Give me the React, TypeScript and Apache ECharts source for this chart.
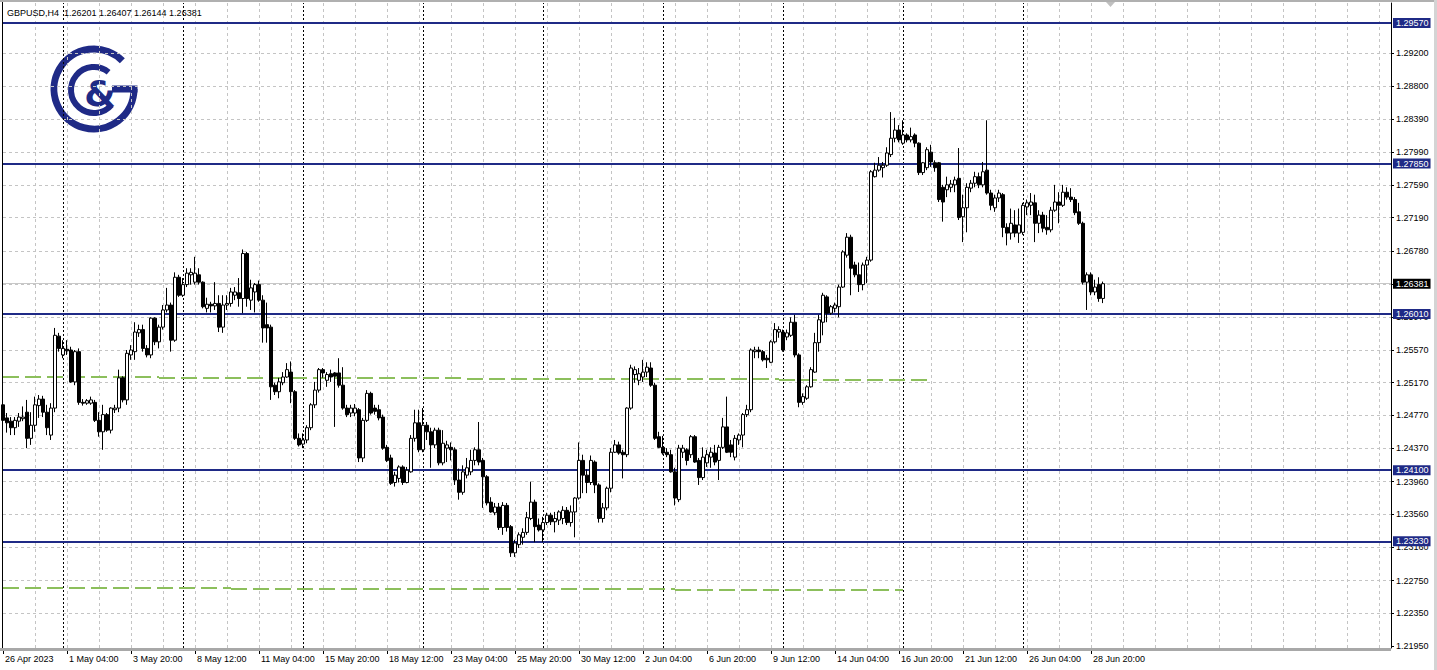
import React, { useEffect, useRef } from "react";
import * as echarts from "echarts";

const symbolTitle = "GBPUSD,H4  1.26201 1.26407 1.26144 1.26381";

// H4 candles, each [open, close, low, high]
const candles: number[][] = [
  [1.2490, 1.2471, 1.2459, 1.2502], [1.2474, 1.2468, 1.2456, 1.2480], [1.2470, 1.2462, 1.2453, 1.2475], [1.2462, 1.2471, 1.2453, 1.2475],
  [1.2470, 1.2475, 1.2463, 1.2480], [1.2473, 1.2475, 1.2470, 1.2488], [1.2481, 1.2449, 1.2437, 1.2496], [1.2449, 1.2465, 1.2441, 1.2481],
  [1.2465, 1.2490, 1.2457, 1.2500], [1.2489, 1.2497, 1.2474, 1.2502], [1.2497, 1.2481, 1.2475, 1.2501], [1.2481, 1.2462, 1.2453, 1.2490],
  [1.2453, 1.2486, 1.2447, 1.2492], [1.2486, 1.2575, 1.2481, 1.2584], [1.2574, 1.2559, 1.2555, 1.2578], [1.2551, 1.2559, 1.2547, 1.2569],
  [1.2558, 1.2556, 1.2551, 1.2569], [1.2557, 1.2518, 1.2517, 1.2561], [1.2518, 1.2555, 1.2514, 1.2557], [1.2555, 1.2493, 1.2490, 1.2559],
  [1.2493, 1.2492, 1.2489, 1.2497], [1.2492, 1.2495, 1.2490, 1.2497], [1.2492, 1.2496, 1.2490, 1.2500], [1.2493, 1.2471, 1.2469, 1.2496],
  [1.2471, 1.2457, 1.2451, 1.2481], [1.2457, 1.2478, 1.2435, 1.2490], [1.2478, 1.2459, 1.2457, 1.2480], [1.2459, 1.2486, 1.2455, 1.2487],
  [1.2484, 1.2486, 1.2480, 1.2490], [1.2486, 1.2523, 1.2481, 1.2533], [1.2523, 1.2496, 1.2493, 1.2525], [1.2496, 1.2553, 1.2490, 1.2557],
  [1.2551, 1.2557, 1.2545, 1.2563], [1.2555, 1.2579, 1.2545, 1.2591], [1.2578, 1.2582, 1.2573, 1.2588], [1.2582, 1.2559, 1.2555, 1.2588],
  [1.2559, 1.2551, 1.2548, 1.2563], [1.2551, 1.2596, 1.2547, 1.2597], [1.2596, 1.2567, 1.2563, 1.2597], [1.2567, 1.2585, 1.2559, 1.2588],
  [1.2585, 1.2606, 1.2582, 1.2612], [1.2606, 1.2612, 1.2603, 1.2633], [1.2612, 1.2569, 1.2555, 1.2615], [1.2569, 1.2646, 1.2567, 1.2652],
  [1.2646, 1.2624, 1.2622, 1.2649], [1.2624, 1.2637, 1.2622, 1.2645], [1.2637, 1.2651, 1.2634, 1.2657], [1.2649, 1.2652, 1.2637, 1.2657],
  [1.2640, 1.2651, 1.2637, 1.2671], [1.2649, 1.2640, 1.2637, 1.2657], [1.2640, 1.2610, 1.2608, 1.2641], [1.2608, 1.2613, 1.2603, 1.2621],
  [1.2613, 1.2611, 1.2603, 1.2616], [1.2611, 1.2614, 1.2606, 1.2640], [1.2614, 1.2585, 1.2579, 1.2624], [1.2585, 1.2612, 1.2578, 1.2624],
  [1.2612, 1.2614, 1.2606, 1.2624], [1.2614, 1.2628, 1.2610, 1.2633], [1.2624, 1.2628, 1.2618, 1.2634], [1.2627, 1.2620, 1.2610, 1.2645],
  [1.2620, 1.2675, 1.2602, 1.2680], [1.2675, 1.2620, 1.2610, 1.2677], [1.2618, 1.2633, 1.2606, 1.2643], [1.2628, 1.2637, 1.2603, 1.2639],
  [1.2637, 1.2618, 1.2616, 1.2642], [1.2618, 1.2584, 1.2566, 1.2624], [1.2588, 1.2584, 1.2566, 1.2615], [1.2585, 1.2512, 1.2496, 1.2588],
  [1.2514, 1.2506, 1.2502, 1.2517], [1.2506, 1.2518, 1.2498, 1.2523], [1.2517, 1.2524, 1.2514, 1.2530], [1.2524, 1.2533, 1.2523, 1.2541],
  [1.2530, 1.2506, 1.2492, 1.2543], [1.2506, 1.2449, 1.2447, 1.2508], [1.2449, 1.2441, 1.2439, 1.2455], [1.2442, 1.2447, 1.2437, 1.2455],
  [1.2447, 1.2462, 1.2443, 1.2465], [1.2462, 1.2490, 1.2459, 1.2492], [1.2490, 1.2508, 1.2486, 1.2518], [1.2508, 1.2533, 1.2505, 1.2535],
  [1.2533, 1.2529, 1.2523, 1.2535], [1.2520, 1.2527, 1.2512, 1.2530], [1.2528, 1.2524, 1.2518, 1.2533], [1.2529, 1.2525, 1.2463, 1.2530],
  [1.2529, 1.2514, 1.2511, 1.2547], [1.2514, 1.2486, 1.2484, 1.2536], [1.2486, 1.2478, 1.2475, 1.2490], [1.2480, 1.2486, 1.2475, 1.2490],
  [1.2480, 1.2486, 1.2476, 1.2491], [1.2484, 1.2425, 1.2420, 1.2486], [1.2425, 1.2471, 1.2420, 1.2474], [1.2471, 1.2504, 1.2469, 1.2508],
  [1.2504, 1.2480, 1.2478, 1.2506], [1.2486, 1.2482, 1.2478, 1.2490], [1.2484, 1.2474, 1.2471, 1.2490], [1.2475, 1.2437, 1.2435, 1.2478],
  [1.2438, 1.2422, 1.2420, 1.2441], [1.2425, 1.2394, 1.2392, 1.2429], [1.2395, 1.2404, 1.2390, 1.2408], [1.2400, 1.2414, 1.2395, 1.2416],
  [1.2414, 1.2395, 1.2392, 1.2416], [1.2395, 1.2410, 1.2394, 1.2414], [1.2408, 1.2449, 1.2407, 1.2453], [1.2449, 1.2468, 1.2445, 1.2484],
  [1.2468, 1.2435, 1.2432, 1.2484], [1.2435, 1.2465, 1.2432, 1.2486], [1.2465, 1.2457, 1.2447, 1.2469], [1.2457, 1.2441, 1.2413, 1.2462],
  [1.2441, 1.2459, 1.2437, 1.2462], [1.2459, 1.2419, 1.2416, 1.2462], [1.2419, 1.2443, 1.2416, 1.2459], [1.2437, 1.2441, 1.2420, 1.2446],
  [1.2438, 1.2435, 1.2422, 1.2444], [1.2435, 1.2398, 1.2392, 1.2438], [1.2398, 1.2383, 1.2374, 1.2412], [1.2383, 1.2408, 1.2380, 1.2416],
  [1.2404, 1.2413, 1.2400, 1.2425], [1.2408, 1.2422, 1.2404, 1.2435], [1.2422, 1.2435, 1.2416, 1.2438], [1.2435, 1.2420, 1.2416, 1.2469],
  [1.2422, 1.2402, 1.2364, 1.2425], [1.2402, 1.2370, 1.2367, 1.2404], [1.2371, 1.2359, 1.2358, 1.2377], [1.2358, 1.2365, 1.2355, 1.2370],
  [1.2365, 1.2340, 1.2337, 1.2370], [1.2340, 1.2367, 1.2331, 1.2371], [1.2367, 1.2340, 1.2335, 1.2370], [1.2341, 1.2309, 1.2304, 1.2343],
  [1.2309, 1.2321, 1.2304, 1.2325], [1.2319, 1.2331, 1.2315, 1.2334], [1.2328, 1.2334, 1.2319, 1.2339], [1.2334, 1.2352, 1.2331, 1.2359],
  [1.2351, 1.2371, 1.2349, 1.2396], [1.2371, 1.2341, 1.2322, 1.2374], [1.2343, 1.2337, 1.2335, 1.2351], [1.2337, 1.2346, 1.2322, 1.2353],
  [1.2346, 1.2355, 1.2343, 1.2358], [1.2355, 1.2347, 1.2343, 1.2358], [1.2347, 1.2351, 1.2334, 1.2359], [1.2349, 1.2359, 1.2343, 1.2361],
  [1.2351, 1.2361, 1.2344, 1.2366], [1.2361, 1.2346, 1.2343, 1.2365], [1.2346, 1.2359, 1.2341, 1.2367], [1.2359, 1.2376, 1.2328, 1.2377],
  [1.2376, 1.2422, 1.2374, 1.2444], [1.2422, 1.2404, 1.2382, 1.2429], [1.2404, 1.2395, 1.2382, 1.2411], [1.2395, 1.2422, 1.2392, 1.2428],
  [1.2420, 1.2392, 1.2382, 1.2422], [1.2392, 1.2351, 1.2346, 1.2394], [1.2351, 1.2364, 1.2346, 1.2370], [1.2364, 1.2388, 1.2361, 1.2390],
  [1.2388, 1.2432, 1.2383, 1.2437], [1.2432, 1.2441, 1.2431, 1.2447], [1.2441, 1.2431, 1.2429, 1.2445], [1.2432, 1.2429, 1.2400, 1.2435],
  [1.2429, 1.2486, 1.2426, 1.2487], [1.2486, 1.2535, 1.2484, 1.2539], [1.2527, 1.2533, 1.2517, 1.2537], [1.2520, 1.2528, 1.2514, 1.2535],
  [1.2524, 1.2530, 1.2518, 1.2545], [1.2530, 1.2536, 1.2524, 1.2542], [1.2535, 1.2514, 1.2512, 1.2542], [1.2514, 1.2449, 1.2447, 1.2517],
  [1.2451, 1.2438, 1.2437, 1.2457], [1.2438, 1.2431, 1.2429, 1.2452], [1.2432, 1.2429, 1.2426, 1.2437], [1.2429, 1.2408, 1.2407, 1.2435],
  [1.2408, 1.2376, 1.2367, 1.2413], [1.2374, 1.2437, 1.2371, 1.2441], [1.2432, 1.2437, 1.2425, 1.2441], [1.2435, 1.2422, 1.2416, 1.2437],
  [1.2429, 1.2451, 1.2425, 1.2453], [1.2451, 1.2420, 1.2419, 1.2453], [1.2422, 1.2401, 1.2392, 1.2425], [1.2401, 1.2426, 1.2398, 1.2438],
  [1.2419, 1.2429, 1.2414, 1.2435], [1.2426, 1.2432, 1.2413, 1.2438], [1.2431, 1.2420, 1.2416, 1.2441], [1.2422, 1.2438, 1.2398, 1.2441],
  [1.2438, 1.2463, 1.2436, 1.2474], [1.2463, 1.2432, 1.2431, 1.2500], [1.2441, 1.2432, 1.2426, 1.2447], [1.2426, 1.2449, 1.2422, 1.2453],
  [1.2447, 1.2453, 1.2441, 1.2455], [1.2453, 1.2478, 1.2438, 1.2480], [1.2478, 1.2484, 1.2475, 1.2490], [1.2484, 1.2557, 1.2481, 1.2559],
  [1.2555, 1.2557, 1.2547, 1.2561], [1.2557, 1.2555, 1.2547, 1.2561], [1.2555, 1.2545, 1.2543, 1.2557], [1.2547, 1.2545, 1.2535, 1.2551],
  [1.2542, 1.2567, 1.2541, 1.2569], [1.2567, 1.2582, 1.2565, 1.2590], [1.2579, 1.2582, 1.2572, 1.2586], [1.2579, 1.2557, 1.2555, 1.2582],
  [1.2573, 1.2578, 1.2569, 1.2582], [1.2575, 1.2591, 1.2573, 1.2597], [1.2591, 1.2551, 1.2548, 1.2600], [1.2551, 1.2493, 1.2487, 1.2553],
  [1.2493, 1.2500, 1.2490, 1.2504], [1.2498, 1.2512, 1.2496, 1.2514], [1.2512, 1.2533, 1.2511, 1.2536], [1.2530, 1.2566, 1.2529, 1.2578],
  [1.2566, 1.2594, 1.2555, 1.2600], [1.2591, 1.2624, 1.2575, 1.2627], [1.2622, 1.2602, 1.2591, 1.2624], [1.2602, 1.2610, 1.2600, 1.2612],
  [1.2608, 1.2612, 1.2603, 1.2615], [1.2610, 1.2634, 1.2597, 1.2637], [1.2634, 1.2677, 1.2633, 1.2679], [1.2673, 1.2695, 1.2670, 1.2700],
  [1.2695, 1.2657, 1.2624, 1.2698], [1.2661, 1.2649, 1.2646, 1.2665], [1.2649, 1.2637, 1.2628, 1.2664], [1.2637, 1.2661, 1.2630, 1.2664],
  [1.2661, 1.2667, 1.2639, 1.2671], [1.2667, 1.2775, 1.2665, 1.2777], [1.2769, 1.2777, 1.2768, 1.2786], [1.2777, 1.2783, 1.2775, 1.2793],
  [1.2780, 1.2783, 1.2768, 1.2787], [1.2783, 1.2798, 1.2781, 1.2805], [1.2796, 1.2816, 1.2793, 1.2848], [1.2816, 1.2826, 1.2811, 1.2841],
  [1.2826, 1.2814, 1.2811, 1.2832], [1.2810, 1.2820, 1.2808, 1.2838], [1.2820, 1.2814, 1.2811, 1.2822], [1.2814, 1.2818, 1.2811, 1.2829],
  [1.2820, 1.2810, 1.2805, 1.2822], [1.2810, 1.2774, 1.2771, 1.2811], [1.2774, 1.2786, 1.2771, 1.2787], [1.2780, 1.2802, 1.2777, 1.2805],
  [1.2799, 1.2787, 1.2781, 1.2808], [1.2786, 1.2780, 1.2775, 1.2789], [1.2786, 1.2741, 1.2738, 1.2787], [1.2756, 1.2738, 1.2714, 1.2759],
  [1.2753, 1.2759, 1.2744, 1.2769], [1.2756, 1.2760, 1.2750, 1.2765], [1.2759, 1.2765, 1.2750, 1.2769], [1.2767, 1.2719, 1.2716, 1.2804],
  [1.2720, 1.2731, 1.2689, 1.2747], [1.2731, 1.2756, 1.2701, 1.2761], [1.2755, 1.2761, 1.2750, 1.2765], [1.2761, 1.2769, 1.2756, 1.2775],
  [1.2769, 1.2759, 1.2755, 1.2774], [1.2759, 1.2775, 1.2756, 1.2787], [1.2777, 1.2749, 1.2747, 1.2838], [1.2749, 1.2734, 1.2728, 1.2753],
  [1.2731, 1.2743, 1.2726, 1.2747], [1.2743, 1.2749, 1.2738, 1.2753], [1.2747, 1.2707, 1.2695, 1.2749], [1.2707, 1.2700, 1.2685, 1.2712],
  [1.2700, 1.2712, 1.2692, 1.2730], [1.2710, 1.2700, 1.2695, 1.2728], [1.2700, 1.2710, 1.2688, 1.2730], [1.2701, 1.2734, 1.2698, 1.2737],
  [1.2732, 1.2737, 1.2722, 1.2741], [1.2734, 1.2738, 1.2722, 1.2749], [1.2737, 1.2712, 1.2689, 1.2747], [1.2712, 1.2722, 1.2700, 1.2728],
  [1.2722, 1.2706, 1.2701, 1.2726], [1.2707, 1.2704, 1.2698, 1.2722], [1.2704, 1.2728, 1.2701, 1.2732], [1.2728, 1.2738, 1.2726, 1.2759],
  [1.2738, 1.2734, 1.2712, 1.2750], [1.2734, 1.2750, 1.2732, 1.2759], [1.2750, 1.2744, 1.2741, 1.2756], [1.2744, 1.2741, 1.2738, 1.2755],
  [1.2741, 1.2725, 1.2722, 1.2744], [1.2726, 1.2712, 1.2710, 1.2737], [1.2712, 1.2640, 1.2637, 1.2714], [1.2640, 1.2649, 1.2606, 1.2652],
  [1.2649, 1.2628, 1.2624, 1.2652], [1.2628, 1.2634, 1.2624, 1.2643], [1.2637, 1.2620, 1.2616, 1.2646], [1.26201, 1.26381, 1.26144, 1.26407],
];

// time scale labels: bar index -> text
const timeLabelIndex = [0, 16, 32, 48, 64, 80, 96, 112, 128, 144, 160, 176, 192, 208, 224, 240, 256, 272];
const timeLabelText = [
  "26 Apr 2023", "1 May 04:00", "3 May 20:00", "8 May 12:00", "11 May 04:00", "15 May 20:00",
  "18 May 12:00", "23 May 04:00", "25 May 20:00", "30 May 12:00", "2 Jun 04:00", "6 Jun 20:00",
  "9 Jun 12:00", "14 Jun 04:00", "16 Jun 20:00", "21 Jun 12:00", "26 Jun 04:00", "28 Jun 20:00",
];

// price scale labels
const priceTicks = [
  1.2920, 1.2880, 1.2839, 1.2799, 1.2759, 1.2719, 1.2678, 1.2638, 1.2597, 1.2557,
  1.2517, 1.2477, 1.2437, 1.2396, 1.2356, 1.2316, 1.2275, 1.2235, 1.2195,
];

// horizontal support / resistance levels
const levels = [1.2957, 1.2785, 1.2601, 1.2410, 1.2323];
const bidPrice = 1.26381;

// weekly separators (bar index of Monday 00:00)
const separatorIndex = [15, 45, 75, 105, 135, 165, 195, 225, 255];
// vertical grid (bar index)
const gridIndex = [8, 16, 24, 32, 40, 48, 56, 64, 72, 80, 88, 96, 104, 112, 120, 128, 136, 144, 152, 160, 168, 176, 184, 192, 200, 208, 216, 224, 232, 240, 248, 256, 264, 272, 280, 288, 296, 304, 312, 320, 328, 336, 344];

// green dashed indicator segments: [fromIndex, toIndex, price]
const greenUpper = [[0, 39, 1.25244], [39, 116, 1.25232], [116, 194, 1.25216], [194, 231, 1.25204]];
const greenLower = [[0, 57, 1.2266], [57, 168, 1.22648], [168, 225, 1.22636]];

const TOTAL_SLOTS = 348;
const FONT = "Liberation Sans";
const NAVY = "#1f2a86";

function buildOption() {
  const cats = Array.from({ length: TOTAL_SLOTS }, (_, i) => String(i));
  const labelMap = new Map<number, string>();
  timeLabelIndex.forEach((idx, k) => labelMap.set(idx, timeLabelText[k]));
  const showTick = (i: number) => labelMap.has(i);

  const segs = (arr: number[][]) =>
    arr.map(([a, b, p]) => [{ coord: [a, p] }, { coord: [b, p] }]);

  return {
    animation: false,
    backgroundColor: "#ffffff",
    grid: { left: 3, right: 46, top: 3, bottom: 22, containLabel: false },
    xAxis: {
      type: "category",
      data: cats,
      boundaryGap: false,
      axisLine: { show: false },
      axisTick: { show: true, interval: showTick, length: 6, lineStyle: { color: "#000", width: 1 } },
      axisLabel: {
        interval: showTick,
        formatter: (_v: string, i: number) => labelMap.get(i) ?? "",
        align: "left",
        padding: [0, 0, 0, 2],
        margin: 6,
        fontSize: 9,
        fontFamily: FONT,
        color: "#000",
      },
      splitLine: { show: false },
    },
    yAxis: {
      type: "value",
      position: "right",
      min: 1.21926,
      max: 1.29814,
      axisLine: { show: true, lineStyle: { color: "#000", width: 1 } },
      axisTick: { show: true, customValues: priceTicks, length: 3, lineStyle: { color: "#000" } },
      axisLabel: {
        customValues: priceTicks,
        formatter: (v: number) => v.toFixed(5),
        margin: 5,
        fontSize: 9,
        fontFamily: FONT,
        color: "#000",
      },
      splitLine: { show: false },
    },
    series: [
      {
        name: "grid",
        type: "line",
        data: [],
        z: 1,
        silent: true,
        markLine: {
          silent: true,
          precision: 6,
          symbol: ["none", "none"],
          label: { show: false },
          lineStyle: { color: "#c4c4c4", type: [3, 3], width: 1 },
          data: [
            ...priceTicks.slice(0, -1).map((p) => ({ yAxis: p })),
            ...gridIndex.map((i) => ({ xAxis: i })),
          ],
        },
      },
      {
        name: "separators",
        type: "line",
        data: [],
        z: 2,
        silent: true,
        markLine: {
          silent: true,
          precision: 6,
          symbol: ["none", "none"],
          label: { show: false },
          lineStyle: { color: "#000", type: [2, 2], width: 1 },
          data: separatorIndex.map((i) => ({ xAxis: i })),
        },
      },
      {
        name: "green",
        type: "line",
        data: [],
        z: 3,
        silent: true,
        markLine: {
          silent: true,
          precision: 6,
          symbol: ["none", "none"],
          label: { show: false },
          lineStyle: { color: "#8cbf5c", type: [16, 6], width: 2 },
          data: [...segs(greenUpper), ...segs(greenLower)],
        },
      },
      {
        name: "bid",
        type: "line",
        data: [],
        z: 3,
        silent: true,
        markLine: {
          silent: true,
          precision: 6,
          symbol: ["none", "none"],
          lineStyle: { color: "#c8c8c8", type: "solid", width: 1 },
          label: {
            show: true,
            position: "end",
            distance: 2,
            formatter: () => bidPrice.toFixed(5),
            backgroundColor: "#000",
            color: "#fff",
            fontSize: 9,
            fontFamily: FONT,
            padding: [1, 2, 0, 3],
          },
          data: [{ yAxis: bidPrice }],
        },
      },
      {
        name: "GBPUSD",
        type: "candlestick",
        data: candles,
        z: 5,
        barWidth: 3,
        clip: false,
        itemStyle: {
          color: "#ffffff",
          color0: "#000000",
          borderColor: "#000000",
          borderColor0: "#000000",
          borderWidth: 1,
        },
      },
      {
        name: "levels",
        type: "line",
        data: [],
        z: 6,
        silent: true,
        markLine: {
          silent: true,
          precision: 6,
          symbol: ["none", "none"],
          lineStyle: { color: NAVY, type: "solid", width: 2 },
          label: {
            show: true,
            position: "end",
            distance: 2,
            formatter: (p: any) => Number(p.value).toFixed(5),
            backgroundColor: NAVY,
            color: "#fff",
            fontSize: 9,
            fontFamily: FONT,
            padding: [1, 2, 0, 3],
          },
          data: levels.map((p) => ({ yAxis: p })),
        },
      },
    ],
    graphic: [
      { type: "rect", z: 10, shape: { x: 0, y: 0, width: 1437, height: 2 }, style: { fill: "#b0b0b0" } },
      { type: "rect", z: 10, shape: { x: 1434, y: 0, width: 3, height: 670 }, style: { fill: "#d4d4d4" } },
      { type: "line", z: 10, shape: { x1: 2.5, y1: 2, x2: 2.5, y2: 648 }, style: { stroke: "#000", lineWidth: 1 } },
      { type: "rect", z: 10, shape: { x: 0, y: 648, width: 1391, height: 3 }, style: { fill: "#a8a8a8" } },
      { type: "polygon", z: 10, shape: { points: [[1106, 2], [1115, 2], [1110.5, 7]] }, style: { fill: "#c0c0c0" } },
      {
        type: "text", z: 10, x: 7, y: 8,
        style: { text: symbolTitle, fontSize: 9, fontFamily: FONT, fill: "#000" },
      },
      {
        type: "group", z: 10,
        children: [
          { type: "arc", shape: { cx: 94, cy: 89, r: 40, startAngle: 0, endAngle: 5.5, clockwise: true }, style: { stroke: NAVY, lineWidth: 7, fill: "none" } },
          { type: "line", shape: { x1: 112, y1: 89, x2: 137.5, y2: 89 }, style: { stroke: NAVY, lineWidth: 7 } },
          { type: "arc", shape: { cx: 94, cy: 90, r: 23, startAngle: 0.7, endAngle: 5.4, clockwise: true }, style: { stroke: NAVY, lineWidth: 6, fill: "none" } },
          { type: "text", x: 100, y: 93, style: { text: "&", font: 'bold 36px "DejaVu Sans"', fill: NAVY, align: "center", verticalAlign: "middle" } },
        ],
      },
    ],
  };
}

export default function App() {
  const ref = useRef<HTMLDivElement>(null);
  useEffect(() => {
    document.body.style.margin = "0";
    const chart = echarts.init(ref.current as HTMLDivElement, null, { renderer: "svg" });
    chart.setOption(buildOption() as any);
    return () => chart.dispose();
  }, []);
  return <div ref={ref} style={{ width: 1437, height: 670, background: "#fff" }} />;
}
